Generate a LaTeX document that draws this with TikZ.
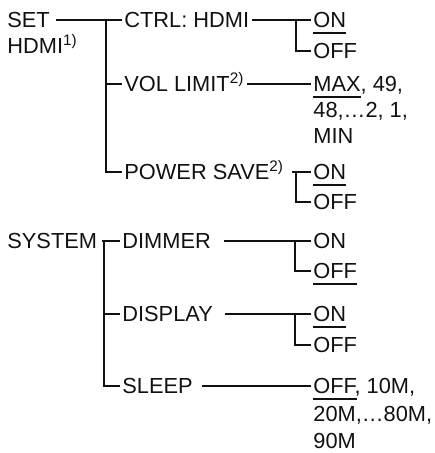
\documentclass[tikz,border=0pt]{standalone}
\usepackage{fontspec}
\setmainfont{Liberation Sans}
\usetikzlibrary{positioning}
\definecolor{ink}{HTML}{111111}
\newcommand{\dflt}[1]{\setbox0=\hbox{#1}\rlap{\rule[-2.9pt]{\wd0}{0.75pt}}#1}
\newcommand{\fnote}[1]{\textsuperscript{#1)}}
\tikzset{
  item/.style={anchor=west,inner xsep=1pt,inner ysep=0pt,text height=7.8pt,text depth=0pt,font=\fontsize{10.9}{13}\selectfont,text=ink},
  ln/.style={draw=ink,line width=1pt},
}

\begin{document}
\begin{tikzpicture}[x=0.5pt,y=-0.5pt]
  \useasboundingbox (0,0) rectangle (434,453);

  % ── SET HDMI ──
  \node[item] (set) at (5,20) {SET};
  \node[item] (hdmi) at (5,46) {HDMI\fnote{1}};
  \node[item] (ctrl) at (122,20) {CTRL: HDMI};
  \node[item] (vol) at (122,84) {VOL LIMIT\fnote{2}};
  \node[item] (pwr) at (122,172) {POWER SAVE\fnote{2}};
  % options, x = 311 for all of them
  \foreach \n/\y/\t in {ctrlon/20/{\dflt{ON}},ctrloff/51/OFF,
      volmax/84/{\dflt{MAX}, 49,},volmid/110/{48,…2, 1,},volmin/136/MIN,
      pwron/172/{\dflt{ON}},pwroff/202/OFF}
    \node[item] (\n) at (311,\y) {\t};

  \draw[ln,shorten <=2pt] (set.east) -- (ctrl.west);
  \coordinate (hdmitrunk) at (106,20);
  \draw[ln] (hdmitrunk) |- (vol.west);
  \draw[ln] (hdmitrunk) |- (pwr.west);
  \draw[ln] (ctrl.east) -- (ctrlon.west);
  \coordinate (ctrlfork) at (296,20);
  \draw[ln] (ctrlfork) |- (ctrloff.west);
  \draw[ln] (vol.east) -- (volmax.west);
  \draw[ln,shorten <=3pt] (pwr.east) -- (pwron.west);
  \coordinate (pwrfork) at (296,172);
  \draw[ln] (pwrfork) |- (pwroff.west);

  % ── SYSTEM ──
  \node[item] (system) at (5,241) {SYSTEM};
  \node[item] (dimmer) at (120,241) {DIMMER};
  \node[item] (display) at (120,314) {DISPLAY};
  \node[item] (sleep) at (120,386) {SLEEP};
  \foreach \n/\y/\t in {dimon/241/ON,dimoff/271/{\dflt{OFF}},
      dispon/314/{\dflt{ON}},dispoff/345/OFF,
      sleepa/386/{\dflt{OFF}, 10M,},sleepb/414/{20M,…80M,},sleepc/441/90M}
    \node[item] (\n) at (311,\y) {\t};

  \draw[ln,shorten <=1.5pt] (system.east) -- (dimmer.west);
  \coordinate (systrunk) at (104,241);
  \draw[ln] (systrunk) |- (display.west);
  \draw[ln] (systrunk) |- (sleep.west);
  \draw[ln,shorten <=5.5pt] (dimmer.east) -- (dimon.west);
  \coordinate (dimfork) at (295,241);
  \draw[ln] (dimfork) |- (dimoff.west);
  \draw[ln,shorten <=5pt] (display.east) -- (dispon.west);
  \coordinate (dispfork) at (295,314);
  \draw[ln] (dispfork) |- (dispoff.west);
  \draw[ln,shorten <=3.5pt] (sleep.east) -- (sleepa.west);
\end{tikzpicture}
\end{document}
